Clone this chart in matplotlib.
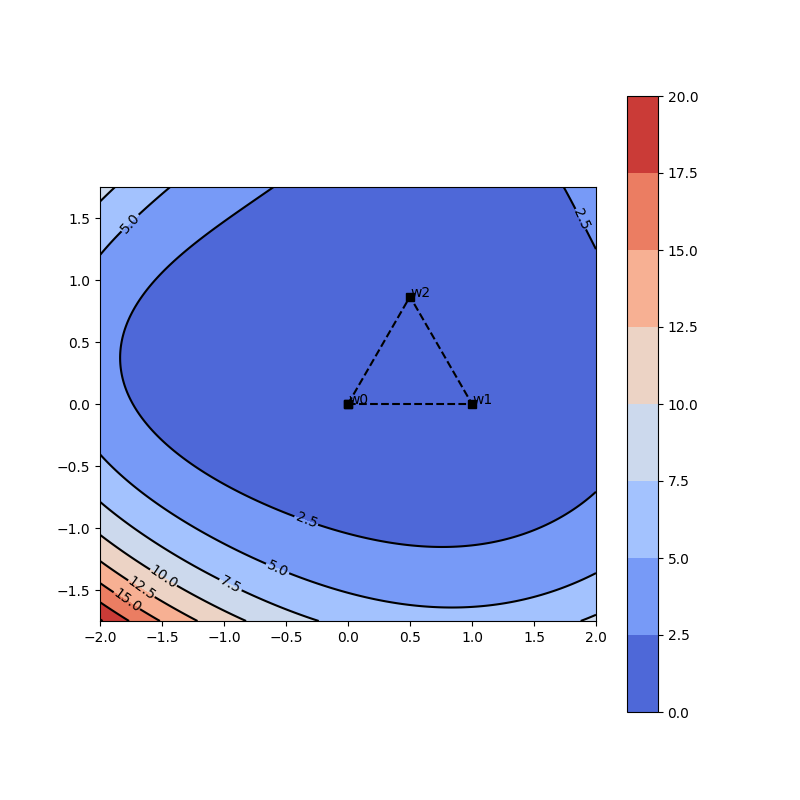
import numpy as np
import matplotlib
matplotlib.use("Agg")
import matplotlib.pyplot as plt

# contour levels shown on the colorbar
levels = [0.0, 2.5, 5.0, 7.5, 10.0, 12.5, 15.0, 17.5, 20.0]

c25_x = [-0.56, -1.01, -1.30, -1.50, -1.68, -1.79, -1.81, -1.75, -1.54, -1.27,
         -0.93, -0.47, 0.02, 0.34, 0.80, 1.28, 1.68, 1.99, 1.72, 1.84, 1.99]
c25_y = [1.74, 1.51, 1.31, 1.13, 0.84, 0.60, 0.36, 0.03, -0.24, -0.47,
         -0.69, -0.96, -1.08, -1.15, -1.20, -1.12, -0.91, -0.66, 1.73, 1.57, 1.31]
c50_x = [-1.99, -1.76, -1.50, -1.99, -1.81, -1.54, -1.27, -1.01, -0.74, -0.41,
         0.02, 0.34, 0.77, 1.28, 1.68, 1.99]
c50_y = [1.22, 1.46, 1.73, -0.51, -0.64, -0.80, -0.96, -1.10, -1.26, -1.39,
         -1.50, -1.58, -1.63, -1.59, -1.50, -1.36]
c75_x = [-1.99, -1.88, -1.99, -1.54, -1.11, -0.84, -0.20, 1.93, 1.99]
c75_y = [1.62, 1.73, -0.83, -1.10, -1.43, -1.55, -1.74, -1.74, -1.71]
c100_x = [-1.99, -1.60, -1.27, -0.87]
c100_y = [-1.04, -1.31, -1.55, -1.74]
c125_x = [-1.99, -1.49, -1.19]
c125_y = [-1.23, -1.58, -1.74]
c150_x = [-1.99, -1.50]
c150_y = [-1.42, -1.74]
c175_x = [-1.99, -1.81]
c175_y = [-1.64, -1.74]

# rough guesses inside the lowest band (all below 2.5)
inner_x = [0.3, -1.0, 1.5, 0.5, 0.5, -0.5, 1.2]
inner_y = [0.4, 0.5, 0.3, 1.3, -0.6, 1.0, 1.0]
inner_v = [0.8, 1.5, 1.4, 1.4, 1.5, 1.3, 1.5]

# triangle of weights
w_names = ["w0", "w1", "w2"]
w_x = [0.0, 1.0, 0.5]
w_y = [0.0, 0.0, 0.866]


def fit_surface(deg=4):
    px, py, pv = [], [], []
    for lv, xs, ys in [(2.5, c25_x, c25_y), (5.0, c50_x, c50_y),
                       (7.5, c75_x, c75_y), (10.0, c100_x, c100_y),
                       (12.5, c125_x, c125_y), (15.0, c150_x, c150_y),
                       (17.5, c175_x, c175_y)]:
        px += xs
        py += ys
        pv += [lv] * len(xs)
    px += inner_x
    py += inner_y
    pv += inner_v
    px, py, pv = np.array(px), np.array(py), np.array(pv)
    terms = [(i, j) for i in range(deg + 1) for j in range(deg + 1 - i)]
    A = np.column_stack([px**i * py**j for i, j in terms])
    coef, *_ = np.linalg.lstsq(A, pv, rcond=None)
    return terms, coef


terms, coef = fit_surface()

xs = np.linspace(-2, 2, 200)
ys = np.linspace(-1.75, 1.75, 200)
X, Y = np.meshgrid(xs, ys)
Z = sum(c * X**i * Y**j for (i, j), c in zip(terms, coef))

fig, ax = plt.subplots(figsize=(8, 8), dpi=100)
cf = ax.contourf(X, Y, Z, levels=levels, cmap="coolwarm")
cs = ax.contour(X, Y, Z, levels=levels, colors="k")
ax.clabel(cs, fmt="%.1f", fontsize=10,
          manual=[(-1.77, 1.47), (1.9, 1.5), (-0.36, -0.99), (-0.58, -1.35),
                  (-0.98, -1.51), (-1.48, -1.39), (-1.65, -1.47), (-1.77, -1.57)])

ax.plot(w_x + w_x[:1], w_y + w_y[:1], "ks--")
for name, x, y in zip(w_names, w_x, w_y):
    ax.text(x, y, name)

ax.set_aspect("equal")
plt.colorbar(cf)
plt.savefig("out.png")
